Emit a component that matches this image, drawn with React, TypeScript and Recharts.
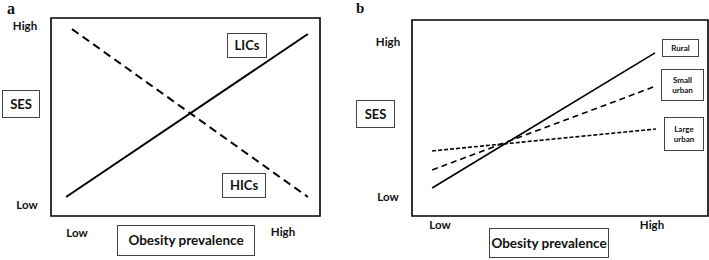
import React from 'react';
import { LineChart, Line, XAxis, YAxis, ReferenceArea } from 'recharts';

// Panel a (conceptual SES vs obesity prevalence)
const levelLabels = ['Low', 'High'];
const licsX = [0.056, 0.955];
const licsY = [0.096, 0.919];
const hicsX = [0.078, 0.955];
const hicsY = [0.944, 0.096];

// Panel b
const ruralX = [0.068, 0.821];
const ruralY = [0.143, 0.832];
const smallUrbanX = [0.068, 0.824];
const smallUrbanY = [0.235, 0.663];
const largeUrbanX = [0.068, 0.824];
const largeUrbanY = [0.332, 0.444];

const toPts = (xs: number[], ys: number[]) => xs.map((x, i) => ({ x, y: ys[i] }));

const FONT = 'Lato, "Open Sans", sans-serif';

function Txt(props: { left: number; top: number; w: number; h: number; size: number; text: string; box?: boolean; lines?: string[] }) {
  const { left, top, w, h, size, text, box, lines } = props;
  return (
    <div
      style={{
        position: 'absolute',
        left,
        top,
        width: w,
        height: h,
        boxSizing: 'border-box',
        border: box ? '1px solid #444' : 'none',
        display: 'flex',
        flexDirection: 'column',
        alignItems: 'center',
        justifyContent: 'center',
        fontFamily: FONT,
        fontWeight: 700,
        fontSize: size,
        lineHeight: 1.25,
        color: '#111',
        background: box ? '#fff' : 'transparent',
        whiteSpace: 'nowrap',
      }}
    >
      {lines ? lines.map((l, i) => <span key={i}>{l}</span>) : text}
    </div>
  );
}

function Panel(props: {
  left: number;
  width: number;
  margin: { top: number; right: number; bottom: number; left: number };
  series: { pts: { x: number; y: number }[]; dash?: string; w: number; key: string }[];
}) {
  const { left, width, margin, series } = props;
  return (
    <div style={{ position: 'absolute', left, top: 0 }}>
      <LineChart width={width} height={260} margin={margin}>
        <XAxis type="number" dataKey="x" domain={[0, 1]} hide allowDataOverflow />
        <YAxis type="number" dataKey="y" domain={[0, 1]} hide allowDataOverflow />
        <ReferenceArea x1={0} x2={1} y1={0} y2={1} fill="none" fillOpacity={0} stroke="#000" strokeWidth={1.6} ifOverflow="visible" />
        {series.map((s) => (
          <Line
            key={s.key}
            data={s.pts}
            dataKey="y"
            type="linear"
            stroke="#000"
            strokeWidth={s.w}
            strokeDasharray={s.dash}
            dot={false}
            activeDot={false}
            isAnimationActive={false}
          />
        ))}
      </LineChart>
    </div>
  );
}

const letterStyle: React.CSSProperties = {
  position: 'absolute',
  top: 0,
  fontFamily: '"Liberation Serif", "DejaVu Serif", serif',
  fontWeight: 700,
  lineHeight: 'normal',
  color: '#111',
};

export default function App() {
  return (
    <div style={{ position: 'fixed', left: 0, top: 0, width: 709, height: 260, background: '#fff', overflow: 'hidden' }}>
      <Panel
        left={0}
        width={360}
        margin={{ top: 18, right: 40, bottom: 44, left: 51 }}
        series={[
          { key: 'LICs', pts: toPts(licsX, licsY), w: 2 },
          { key: 'HICs', pts: toPts(hicsX, hicsY), w: 2, dash: '8 5' },
        ]}
      />
      <Panel
        left={350}
        width={359}
        margin={{ top: 20, right: 1, bottom: 44, left: 62 }}
        series={[
          { key: 'Rural', pts: toPts(ruralX, ruralY), w: 1.6 },
          { key: 'Small urban', pts: toPts(smallUrbanX, smallUrbanY), w: 1.6, dash: '6 4' },
          { key: 'Large urban', pts: toPts(largeUrbanX, largeUrbanY), w: 1.6, dash: '4 2' },
        ]}
      />

      {/* panel a labels */}
      <div style={{ ...letterStyle, left: 7, fontSize: 16 }}>a</div>
      <Txt left={5} top={18} w={40} h={16} size={11.5} text={levelLabels[1]} />
      <Txt left={7} top={197} w={40} h={16} size={11.5} text={levelLabels[0]} />
      <Txt left={2} top={90} w={38} h={28} size={13} text="SES" box />
      <Txt left={57} top={225} w={40} h={16} size={11.5} text={levelLabels[0]} />
      <Txt left={263} top={224} w={40} h={16} size={11.5} text={levelLabels[1]} />
      <Txt left={117} top={225} w={138} h={31} size={13.5} text="Obesity prevalence" box />
      <Txt left={227} top={33} w={40} h={25} size={13} text="LICs" box />
      <Txt left={222} top={173} w={44} h={25} size={13} text="HICs" box />

      {/* panel b labels */}
      <div style={{ ...letterStyle, left: 356, fontSize: 15 }}>b</div>
      <Txt left={368} top={34} w={40} h={16} size={11.5} text={levelLabels[1]} />
      <Txt left={368} top={189} w={40} h={16} size={11.5} text={levelLabels[0]} />
      <Txt left={356} top={100} w={39} h={28} size={13} text="SES" box />
      <Txt left={420} top={217} w={40} h={16} size={11.5} text={levelLabels[0]} />
      <Txt left={632} top={217} w={40} h={16} size={11.5} text={levelLabels[1]} />
      <Txt left={489} top={228} w={120} h={30} size={13.5} text="Obesity prevalence" box />
      <Txt left={662} top={39} w={37} h={18} size={8} text="Rural" box />
      <Txt left={661} top={69} w={43} h={32} size={8} text="" lines={['Small', 'urban']} box />
      <Txt left={664} top={117} w={40} h={34} size={8} text="" lines={['Large', 'urban']} box />
    </div>
  );
}
